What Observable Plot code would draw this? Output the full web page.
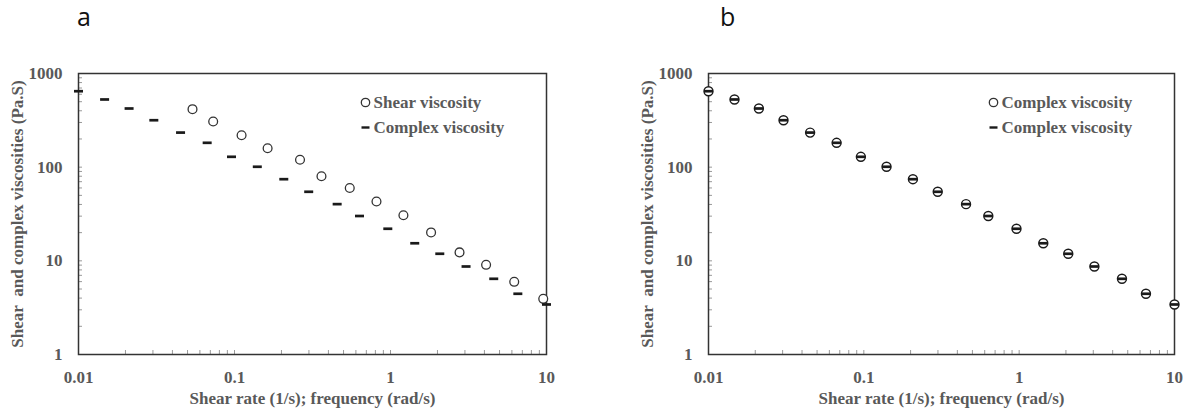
<!DOCTYPE html>
<html>
<head>
<meta charset="utf-8">
<script src="https://cdn.jsdelivr.net/npm/d3@7"></script>
<script src="https://cdn.jsdelivr.net/npm/@observablehq/plot@0.6"></script>
<style>
  html, body { margin: 0; padding: 0; background: #fff; }
  #wrap { position: relative; width: 1186px; height: 409px; overflow: hidden; }
  .panel { position: absolute; top: 0; }
  .letter { position: absolute; font-family: "Open Sans", sans-serif; font-size: 25px; color: #111; line-height: 1; }
</style>
</head>
<body>
<div id="wrap"></div>
<script>
// ---- data ----
const panelLetters = ["a", "b"];
// complex viscosity (frequency sweep)
const frequency = [0.01, 0.0147, 0.0211, 0.0304, 0.0451, 0.0668, 0.0957, 0.140, 0.207, 0.299, 0.455, 0.633, 0.961, 1.43, 2.07, 3.05, 4.59, 6.55, 10];
const complexViscosity = [647, 528, 423, 317, 234, 182, 129, 101, 74.4, 54.6, 40.3, 30.1, 22.0, 15.4, 11.9, 8.7, 6.43, 4.45, 3.42];
// shear viscosity (steady shear)
const shearRate = [0.0538, 0.0730, 0.111, 0.163, 0.263, 0.361, 0.548, 0.813, 1.21, 1.82, 2.77, 4.10, 6.21, 9.53];
const shearViscosity = [416, 307, 219, 159, 120, 80, 59.9, 43.0, 30.7, 20.1, 12.3, 9.07, 5.97, 3.93];

const xTicks = [0.01, 0.1, 1, 10];
const yTicks = [1, 10, 100, 1000];
const xTickLabels = ["0.01", "0.1", "1", "10"];
const yTickLabels = ["1", "10", "100", "1000"];
const xTitle = "Shear rate (1/s); frequency (rad/s)";
const yTitle = "Shear\u00a0 and complex viscosities (Pa.S)";
const legendA = ["Shear viscosity", "Complex viscosity"];
const legendB = ["Complex viscosity", "Complex viscosity"];

// minor tick positions (1..9 per decade)
const minorX = xTicks.slice(0, -1).flatMap(d => d3.range(1, 10).map(k => k * d)).concat([10]);
const minorY = yTicks.slice(0, -1).flatMap(d => d3.range(1, 10).map(k => k * d)).concat([1000]);

const complexData = frequency.map((x, i) => ({x, y: complexViscosity[i]}));
const shearData = shearRate.map((x, i) => ({x, y: shearViscosity[i]}));

// horizontal dash symbol
const dash = {
  draw(ctx, size) {
    const r = Math.sqrt(size / Math.PI);
    ctx.moveTo(-r, -r * 0.3);
    ctx.lineTo(r, -r * 0.3);
    ctx.lineTo(r, r * 0.3);
    ctx.lineTo(-r, r * 0.3);
    ctx.closePath();
  }
};

const TEXT = "#595959";
const INK = "#1a1a1a";

function panel({marginLeft, marginRight, overlay, legend}) {
  const marks = [
    // minor ticks inside the frame
    Plot.axisX(minorX, {tickSize: 4, dy: -4, tickFormat: () => "", stroke: "#9a9a9a", label: null}),
    Plot.axisY(minorY, {tickSize: 4, dx: 4, tickFormat: () => "", stroke: "#9a9a9a", label: null}),
    // tick labels
    Plot.axisX(xTicks, {tickSize: 0, tickPadding: 16, tickFormat: (d) => xTickLabels[xTicks.indexOf(d)], fill: TEXT, label: null}),
    Plot.axisY(yTicks, {tickSize: 0, tickPadding: 16, tickFormat: (d) => yTickLabels[yTicks.indexOf(d)], fill: TEXT, label: null}),
    Plot.frame({stroke: "#333", strokeWidth: 1.5}),
    // axis titles
    Plot.text([xTitle], {frameAnchor: "bottom", dy: 44, lineAnchor: "middle", text: d => d, fill: TEXT}),
    Plot.text([yTitle], {frameAnchor: "left", dx: -61, rotate: -90, textAnchor: "middle", lineAnchor: "middle", text: d => d, fill: TEXT}),
  ];
  if (overlay) {
    marks.push(
      Plot.dot(complexData, {x: "x", y: "y", r: 4.5, stroke: INK, strokeWidth: 1.4, fill: "white"}),
      Plot.dot(complexData, {x: "x", y: "y", r: 4.5, symbol: dash, fill: INK})
    );
  } else {
    marks.push(
      Plot.dot(shearData, {x: "x", y: "y", r: 4.4, stroke: "#333", strokeWidth: 1.3, fill: "white"}),
      Plot.dot(complexData, {x: "x", y: "y", r: 4.5, symbol: dash, fill: INK})
    );
  }
  // legend
  marks.push(
    Plot.dot([legend[0]], {frameAnchor: "top-right", dx: -181, dy: 29, r: 4.2, stroke: "#333", strokeWidth: 1.3, fill: "white"}),
    Plot.dot([legend[1]], {frameAnchor: "top-right", dx: -181, dy: 54, r: 4, symbol: dash, fill: INK}),
    Plot.text([legend[0]], {frameAnchor: "top-right", dx: -173, dy: 29, textAnchor: "start", lineAnchor: "middle", text: d => d, fill: TEXT}),
    Plot.text([legend[1]], {frameAnchor: "top-right", dx: -173, dy: 54, textAnchor: "start", lineAnchor: "middle", text: d => d, fill: TEXT})
  );
  return Plot.plot({
    width: 593,
    height: 409,
    marginTop: 73,
    marginBottom: 55,
    marginLeft,
    marginRight,
    x: {type: "log", domain: [0.01, 10]},
    y: {type: "log", domain: [1, 1000]},
    style: {fontFamily: "'Liberation Serif', serif", fontWeight: "bold", fontSize: "17px", background: "white", overflow: "visible"},
    marks
  });
}

const wrap = document.getElementById("wrap");
const pa = panel({marginLeft: 78, marginRight: 47, overlay: false, legend: legendA});
const pb = panel({marginLeft: 115, marginRight: 12, overlay: true, legend: legendB});
[pa, pb].forEach((svg, i) => {
  const d = document.createElement("div");
  d.className = "panel";
  d.style.left = (i * 593) + "px";
  d.appendChild(svg);
  wrap.appendChild(d);
});
const letterPos = [[77, 4], [720, 4]];
panelLetters.forEach((t, i) => {
  const el = document.createElement("div");
  el.className = "letter";
  el.textContent = t;
  el.style.left = letterPos[i][0] + "px";
  el.style.top = letterPos[i][1] + "px";
  wrap.appendChild(el);
});
</script>
</body>
</html>
